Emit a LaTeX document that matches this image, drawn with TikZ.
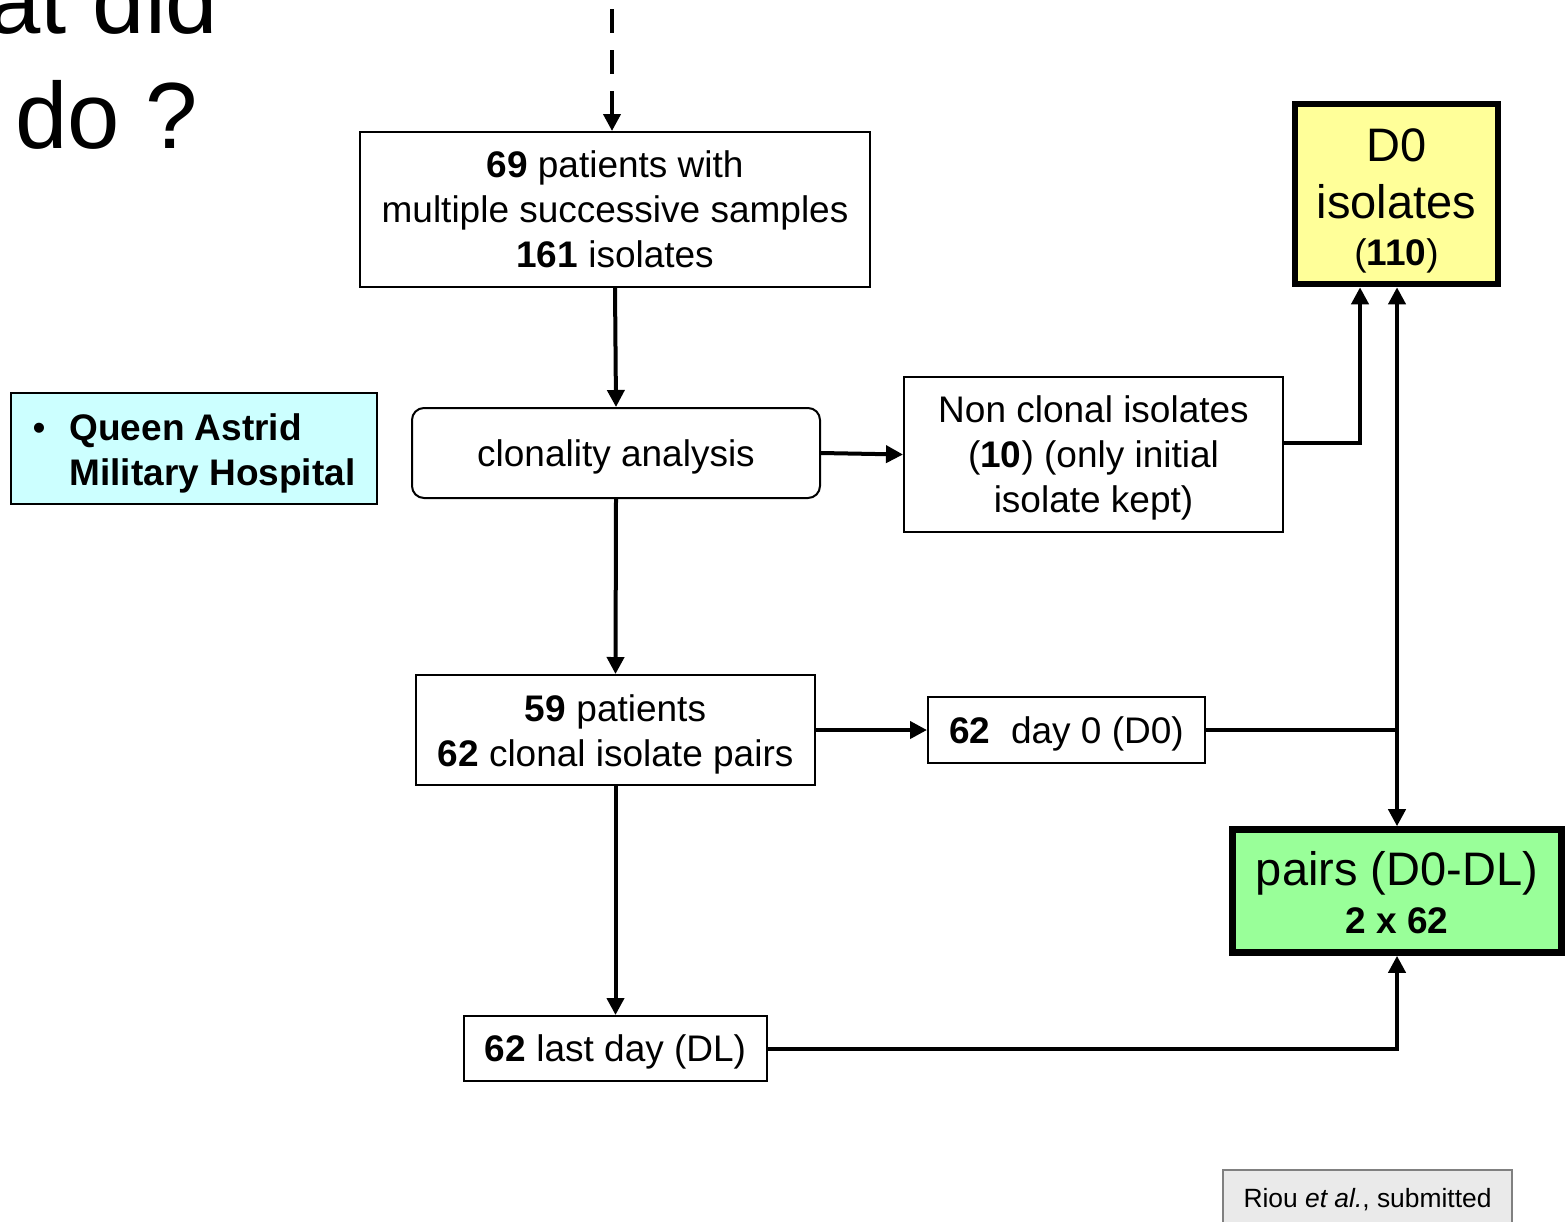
\documentclass[tikz,border=0pt]{standalone}
\usepackage{fontspec}
\setmainfont{Liberation Sans}
\usetikzlibrary{positioning,arrows.meta,calc}
\definecolor{dzerofill}{HTML}{FFFF99}
\definecolor{pairsfill}{HTML}{99FF99}
\definecolor{sitefill}{HTML}{CCFFFF}
\definecolor{citefill}{HTML}{EAEAEA}

\begin{document}
\begin{tikzpicture}[
    x=0.5pt, y=-0.5pt,
    plainbox/.style={draw, line width=1pt, align=center, inner sep=0pt,
        font=\fontsize{18.5}{22.5}\selectfont},
    box/.style={plainbox, execute at begin node={\rule{0pt}{17pt}}},
    bigbox/.style={box, line width=3.3pt, font=\fontsize{23.5}{28.5}\selectfont},
    flow/.style={line width=2pt, -{Triangle[length=8.5pt,width=8.5pt]}},
    link/.style={line width=2pt},
    title/.style={anchor=base west, inner sep=0pt, font=\fontsize{47}{56}\selectfont}
]
\useasboundingbox (0,0) rectangle (1567,1221);

% title, cut by the page edge
\node[title] (ttla) at (-12,33) {at did};
\node[title] (ttlb) at (15,148) {do ?};

% flow boxes
\node[box, minimum width=255pt, minimum height=77.5pt] (top) at (615,209.5)
    {\textbf{69} patients with\\multiple successive samples\\\textbf{161} isolates};
\node[box, rounded corners=6pt, minimum width=204pt, minimum height=45pt] (clon) at (616,453)
    {clonality analysis};
\node[box, minimum width=189.5pt, minimum height=77.5pt] (noncl) at (1093.5,454.5)
    {\rule{0pt}{17pt}Non clonal isolates\\(\textbf{10}) (only initial\\isolate kept)};
\node[box, minimum width=199.5pt, minimum height=55pt] (pat) at (615.5,730)
    {\rule{0pt}{17.5pt}\textbf{59} patients\\\textbf{62} clonal isolate pairs};
\node[box, minimum width=138.5pt, minimum height=33pt] (dayz) at (1066.5,730)
    {\textbf{62}\ \ day 0 (D0)};
\node[box, minimum width=151.5pt, minimum height=32.5pt] (last) at (615.5,1048.5)
    {\textbf{62} last day (DL)};

% result boxes
\node[bigbox, fill=dzerofill, minimum width=101.5pt, minimum height=90pt] (dzero) at (1396.5,194)
    {\rule{0pt}{23pt}D0\\isolates\\[-5pt]{\fontsize{18.5}{22.5}\selectfont(\textbf{110})}};
\node[bigbox, fill=pairsfill, minimum width=164.5pt, minimum height=61.5pt] (pairs) at (1397,891)
    {\rule{0pt}{18.8pt}pairs (D0-DL)\\[-4.5pt]{\fontsize{18.5}{22.5}\selectfont\textbf{2 x 62}}};

% side notes
\node[box, fill=sitefill, minimum width=183pt, minimum height=55.5pt] (site) at (194,448.5)
    {\begin{tabular}{@{}l@{\hspace{12pt}}l@{}}
     \rule{0pt}{20.75pt}\textbullet & \textbf{Queen Astrid}\\
                 & \textbf{Military Hospital}
     \end{tabular}};
\node[plainbox, draw=gray, line width=0.8pt, fill=citefill, minimum width=144.5pt, minimum height=30pt,
    font=\fontsize{13.2}{16}\selectfont] (cite) at (1367.5,1200)
    {Riou \textit{et al.}, submitted};

% connectors
\coordinate (src) at (612,-32);
\draw[flow, dash pattern=on 12pt off 8.5pt] (src) -- (src |- top.north);
\draw[flow] (top.south) -- (clon.north);
\draw[flow] (clon.east) -- (noncl.west);
\draw[flow] ([yshift=5.75pt]noncl.east) -| ([xshift=-18.25pt]dzero.south);
\draw[flow] (clon.south) -- (pat.north);
\draw[flow] (pat.east) -- (dayz.west);
\coordinate (jn) at (pairs.north |- dayz.east);
\draw[link] (dayz.east) -- (jn);
\draw[flow] (jn) -- (jn |- dzero.south);
\draw[flow] (jn) -- (pairs.north);
\draw[flow] (pat.south) -- (last.north);
\draw[flow] (last.east) -| (pairs.south);
\end{tikzpicture}
\end{document}
